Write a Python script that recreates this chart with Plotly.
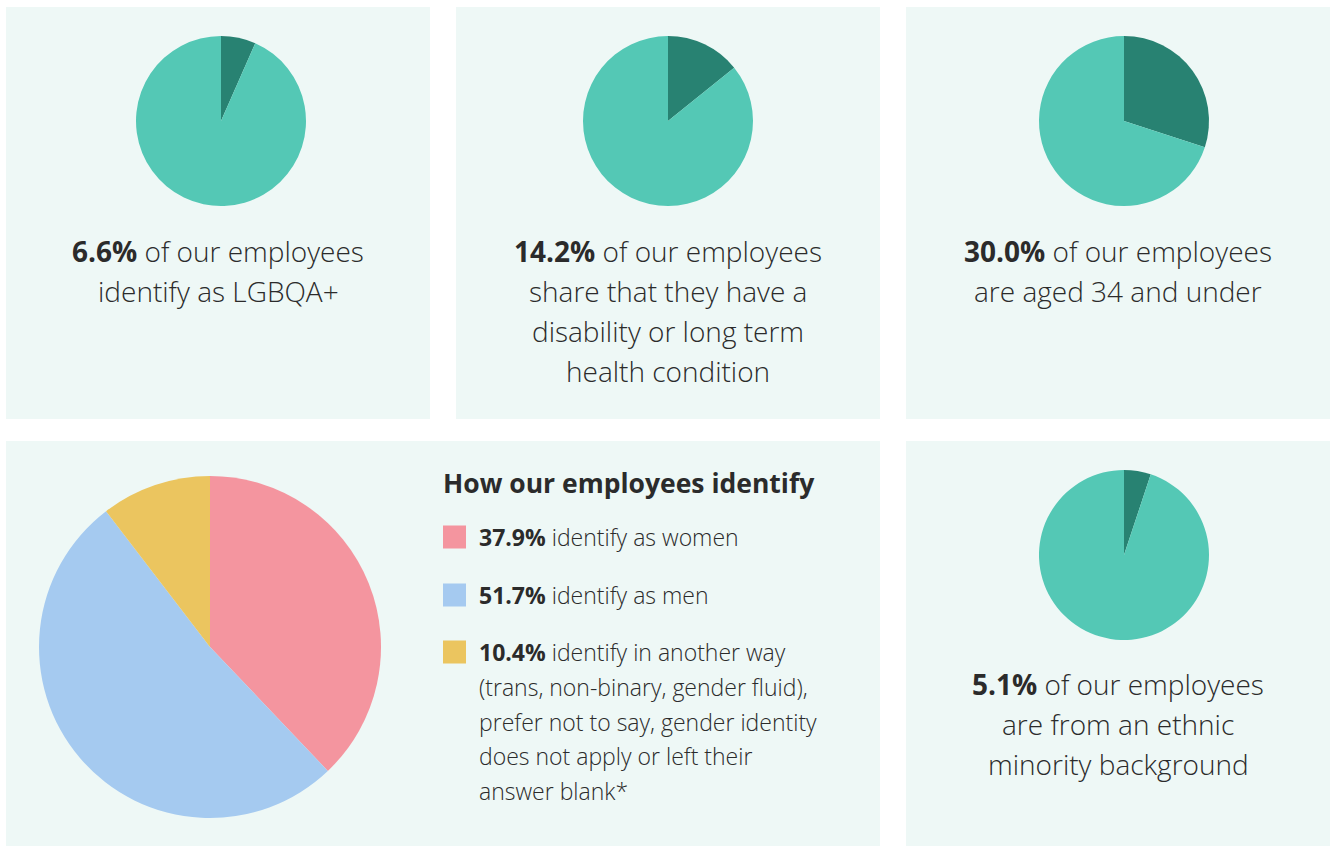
import plotly.graph_objects as go

W, H = 1330, 846

# ---- data ----
stat_values = [6.6, 14.2, 30.0, 5.1]
stat_bold = ["6.6%", "14.2%", "30.0%", "5.1%"]
stat_lines = [
    ["of our employees", "identify as LGBQA+"],
    ["of our employees", "share that they have a", "disability or long term", "health condition"],
    ["of our employees", "are aged 34 and under"],
    ["of our employees", "are from an ethnic", "minority background"],
]
gender_labels = ["identify as women", "identify as men", "identify in another way"]
gender_values = [37.9, 51.7, 10.4]
gender_extra = ["(trans, non-binary, gender fluid),", "prefer not to say, gender identity",
                "does not apply or left their", "answer blank*"]
legend_title = "How our employees identify"

# ---- style ----
BG = "#EEF8F6"
TEAL_L = "#54C8B5"
TEAL_D = "#288272"
GCOLS = ["#F4959F", "#A5CAF0", "#EBC55F"]
TXT = "#2b2b2b"
FONT = "Open Sans"

def px(x):
    return x / W

def py(y):
    return 1 - y / H

fig = go.Figure()

# panels
panels = [(6, 7, 430, 419), (456, 7, 880, 419), (906, 7, 1330, 419),
          (6, 441, 880, 846), (906, 441, 1330, 846)]
for x0, y0, x1, y1 in panels:
    fig.add_shape(type="rect", xref="paper", yref="paper",
                  x0=px(x0), x1=px(x1), y0=py(y1), y1=py(y0),
                  fillcolor=BG, line_width=0, layer="below")

# small pies: centre and radius
pie_pos = [(221, 121), (668, 121), (1124, 121), (1124, 555)]
R = 85
for v, (cx, cy) in zip(stat_values, pie_pos):
    fig.add_trace(go.Pie(values=[v, 100 - v], sort=False, direction="clockwise",
                         rotation=0, textinfo="none", hoverinfo="skip",
                         marker=dict(colors=[TEAL_D, TEAL_L], line=dict(width=0)),
                         domain=dict(x=[px(cx - R), px(cx + R)], y=[py(cy + R), py(cy - R)]),
                         showlegend=False))

# big pie
cx, cy, RB = 210, 647, 171
fig.add_trace(go.Pie(values=gender_values, labels=gender_labels, sort=False,
                     direction="clockwise", rotation=0, textinfo="none", hoverinfo="skip",
                     marker=dict(colors=GCOLS, line=dict(width=0)),
                     domain=dict(x=[px(cx - RB), px(cx + RB)], y=[py(cy + RB), py(cy - RB)]),
                     showlegend=False))

# stat texts
text_pos = [(218, 251), (668, 251), (1118, 251), (1118, 684)]
FS = 28
for bold, lines, (tx, ty) in zip(stat_bold, stat_lines, text_pos):
    for i, line in enumerate(lines):
        t = f"<b>{bold}</b> {line}" if i == 0 else line
        fig.add_annotation(x=px(tx), y=py(ty + 40 * i), xref="paper", yref="paper",
                           text=t, showarrow=False, xanchor="center", yanchor="middle",
                           font=dict(family=FONT, size=FS, color=TXT, weight=300))

# legend title
fig.add_annotation(x=px(441), y=py(483), xref="paper", yref="paper",
                   text=f"<b>{legend_title}</b>", showarrow=False,
                   xanchor="left", yanchor="middle",
                   font=dict(family=FONT, size=26.5, color=TXT))

LFS = 23
leg_y = [537, 595, 652]
for lab, val, col, ly in zip(gender_labels, gender_values, GCOLS, leg_y):
    fig.add_shape(type="rect", xref="paper", yref="paper",
                  x0=px(443), x1=px(466), y0=py(ly + 11.5), y1=py(ly - 11.5),
                  fillcolor=col, line_width=0)
    fig.add_annotation(x=px(477), y=py(ly), xref="paper", yref="paper",
                       text=f"<b>{val:.1f}%</b> {lab}", showarrow=False,
                       xanchor="left", yanchor="middle",
                       font=dict(family=FONT, size=LFS, color=TXT, weight=300))
for i, line in enumerate(gender_extra):
    fig.add_annotation(x=px(477), y=py(687 + 34.5 * i), xref="paper", yref="paper",
                       text=line, showarrow=False, xanchor="left", yanchor="middle",
                       font=dict(family=FONT, size=LFS, color=TXT, weight=300))

fig.update_layout(width=W, height=H, margin=dict(l=0, r=0, t=0, b=0),
                  paper_bgcolor="white", plot_bgcolor="white",
                  xaxis=dict(visible=False), yaxis=dict(visible=False))

fig.write_html("out.html", config={"displayModeBar": False},
               post_script="document.body.style.margin='0';document.body.style.padding='0';")
